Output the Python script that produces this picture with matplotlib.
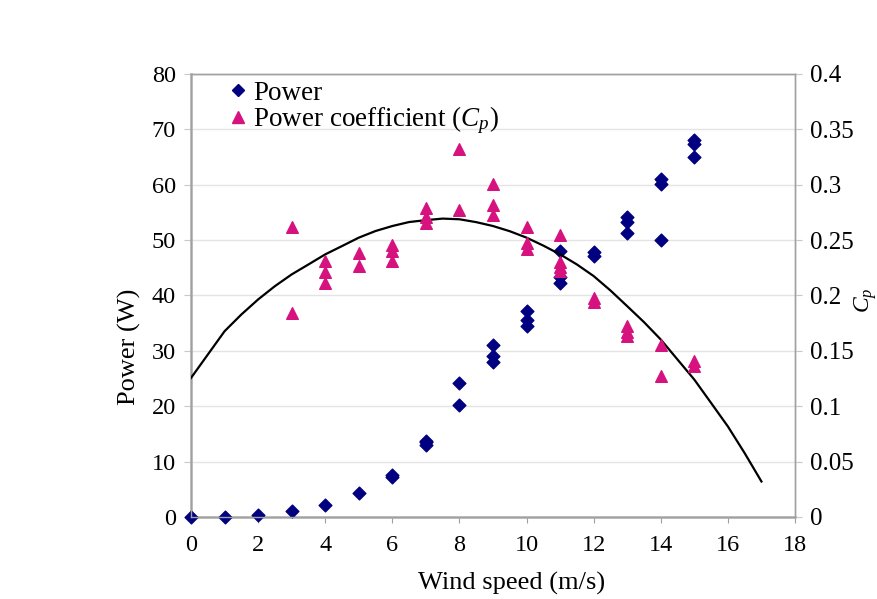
import matplotlib
matplotlib.use("Agg")
import matplotlib.pyplot as plt
from matplotlib.lines import Line2D

plt.rcParams['font.family'] = ['Liberation Serif', 'DejaVu Serif']
plt.rcParams['mathtext.fontset'] = 'custom'
plt.rcParams['mathtext.it'] = 'Liberation Serif:italic'
plt.rcParams['mathtext.rm'] = 'Liberation Serif'

# measured power (W) per wind speed (m/s)
power_speed = [0, 1, 2, 3, 4, 5, 6, 6, 7, 7, 7, 8, 8, 9, 9, 9,
               10, 10, 10, 11, 11, 11, 12, 12, 13, 13, 13, 14, 14, 14, 15, 15, 15]
power_w = [0, 0, 0.3, 1.0, 2.2, 4.3, 7.3, 7.6, 13.0, 13.5, 13.8, 20.2, 24.2, 28.0, 29.0, 31.0,
           34.4, 35.5, 37.2, 42.3, 43.3, 48.0, 47.1, 47.8, 51.2, 53.2, 54.2, 50.1, 60.1, 61.0, 65.0, 67.3, 68.0]

# power coefficient per wind speed
cp_speed = [3, 3, 4, 4, 4, 5, 5, 6, 6, 6, 7, 7, 7, 8, 8, 9, 9, 9,
            10, 10, 10, 11, 11, 11, 11, 12, 12, 13, 13, 13, 14, 14, 15, 15]
cp_vals = [0.262, 0.184, 0.231, 0.221, 0.211, 0.238, 0.227, 0.246, 0.240, 0.231,
           0.279, 0.271, 0.265, 0.332, 0.277, 0.301, 0.282, 0.273,
           0.262, 0.247, 0.242, 0.255, 0.230, 0.226, 0.222, 0.198, 0.194,
           0.172, 0.167, 0.163, 0.155, 0.127, 0.141, 0.136]

# trend line (every half m/s)
trend_x = [0, 0.5, 1, 1.5, 2, 2.5, 3, 3.5, 4, 4.5, 5, 5.5, 6, 6.5, 7, 7.5, 8, 8.5,
           9, 9.5, 10, 10.5, 11, 11.5, 12, 12.5, 13, 13.5, 14, 14.5, 15, 15.5, 16, 16.5, 17]
trend_cp = [0.1255, 0.1466, 0.1677, 0.1828, 0.1964, 0.2084, 0.2190, 0.2280, 0.2371,
            0.2446, 0.2522, 0.2582, 0.2627, 0.2663, 0.2680, 0.2694, 0.2688, 0.2662,
            0.2627, 0.2580, 0.2522, 0.2450, 0.2371, 0.2280, 0.2175, 0.2045, 0.1903,
            0.1759, 0.1602, 0.1421, 0.1240, 0.1029, 0.0817, 0.0576, 0.0320]

navy = '#000080'
pink = '#D6127F'

fig = plt.figure(figsize=(8.77, 5.99), dpi=100)
ax = fig.add_axes([0.2178, 0.137, 0.6887, 0.7395])
ax2 = ax.twinx()

ax.set_xlim(0, 18)
ax.set_ylim(0, 80)
ax2.set_ylim(0, 0.4)
ax.set_xticks(range(0, 19, 2))
ax.set_yticks(range(0, 81, 10))
ax2.set_yticks([0, 0.05, 0.1, 0.15, 0.2, 0.25, 0.3, 0.35, 0.4])
ax2.set_yticklabels(['0', '0.05', '0.1', '0.15', '0.2', '0.25', '0.3', '0.35', '0.4'])

for y in range(10, 81, 10):
    ax.axhline(y, color='#e4e4e4', lw=1, zorder=0)

for a in (ax, ax2):
    for s in a.spines.values():
        s.set_color('#a0a0a0')
        s.set_linewidth(1)
ax.spines['left'].set_linewidth(1.8)
ax.spines['bottom'].set_linewidth(1.8)
ax.spines['left'].set_color('#b0b0b0')
ax.spines['bottom'].set_color('#b0b0b0')

ax.tick_params(axis='x', labelsize=17.5, color='#a0a0a0', length=4, direction='out', pad=9)
ax.tick_params(axis='y', labelsize=17.5, color='#c8c8c8', length=5, direction='out', pad=6)
ax2.tick_params(axis='y', labelsize=18, color='#c8c8c8', length=5, direction='out', pad=6)

ax2.plot(trend_x, trend_cp, color='black', lw=1.6, zorder=3)
ax.scatter(power_speed, power_w, marker='D', s=42, color=navy, zorder=4, clip_on=False)
ax2.scatter(cp_speed, cp_vals, marker='^', s=70, color=pink, zorder=4, clip_on=False)

ax.set_xlabel('Wind speed (m/s)', fontsize=19)
ax.xaxis.set_label_coords(0.53, -0.125)
ax.set_ylabel('Power (W)', fontsize=19)
ax.yaxis.set_label_coords(-0.083, 0.385)
ax2.set_ylabel('$C_p$', fontsize=17)
ax2.yaxis.set_label_coords(1.094, 0.49)

handles = [Line2D([], [], marker='D', color=navy, ls='none', markersize=6),
           Line2D([], [], marker='^', color=pink, ls='none', markersize=8)]
ax.legend(handles, ['Power', 'Power coefficient ($C_p$)'], loc='upper left',
          bbox_to_anchor=(0.038, 1.009), frameon=False, fontsize=19.5,
          handletextpad=0.05, labelspacing=-0.05, handlelength=1.0, borderaxespad=0)

fig.savefig('out.png', dpi=100)
